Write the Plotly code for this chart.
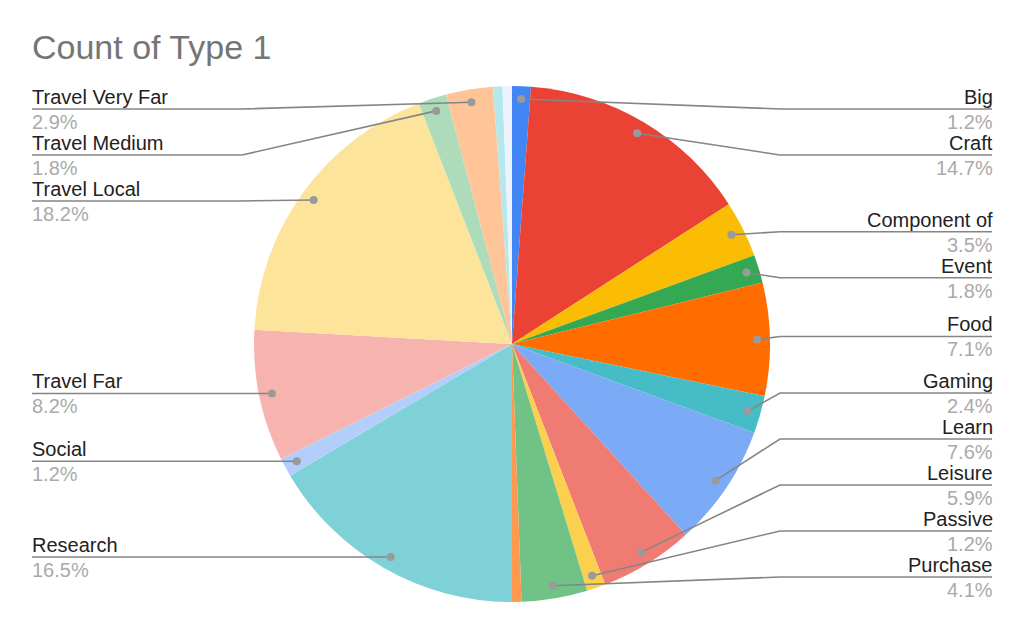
import math
import plotly.graph_objects as go

# ---- data ----
labels = ["Big", "Craft", "Component of", "Event", "Food", "Gaming", "Learn",
          "Leisure", "Passive", "Purchase", "Other 1", "Research", "Social",
          "Travel Far", "Travel Local", "Travel Medium", "Travel Very Far",
          "Other 2", "Other 3"]
values = [2, 25, 6, 3, 12, 4, 13, 10, 2, 7, 1, 28, 2, 14, 31, 3, 5, 1, 1]
colors = ["#4285F4", "#EA4335", "#FBBC04", "#34A853", "#FF6D01", "#46BDC6",
          "#7BAAF7", "#F07B72", "#FCD04F", "#71C287", "#FF994D", "#7ED1D7",
          "#B3CEFB", "#F7B4AE", "#FDE49B", "#AEDCBA", "#FFC599", "#B5E8EB",
          "#ECF3FE"]
title = "Count of Type 1"

# ---- geometry (page pixels) ----
OFF = 8                      # default body margin of the html page
FW, FH = 1024 - 2 * OFF, 633 - 2 * OFF
CX, CY, R = 512, 344, 258
DOT_R = 0.95 * R
LEFT_X, RIGHT_X = 32, 992
LEFT_ELBOW, RIGHT_ELBOW = 242, 780
TOP_LINE, BOTTOM_LINE, GAP = 109, 577, 46
FONT = "Liberation Sans, Arial, sans-serif"


def px(x):
    return (x - OFF) / FW


def py(y):
    return 1 - (y - OFF) / FH


fig = go.Figure()
fig.add_trace(go.Pie(
    labels=labels, values=values, sort=False, direction="clockwise",
    marker=dict(colors=colors, line=dict(width=0)),
    textinfo="none", showlegend=False,
    domain=dict(x=[px(CX - R), px(CX + R)], y=[py(CY + R), py(CY - R)]),
))

total = sum(values)
items = []
cum = 0
for lab, v in zip(labels, values):
    mid = (cum + v / 2) / total * 2 * math.pi
    cum += v
    pct = v / total * 100
    if pct < 1:
        continue
    dx = CX + DOT_R * math.sin(mid)
    dy = CY - DOT_R * math.cos(mid)
    side = "right" if mid < math.pi else "left"
    items.append(dict(label=lab, pct=pct, dx=dx, dy=dy, side=side))


def layout_side(its, shift):
    its = sorted(its, key=lambda d: d["dy"])
    ys = [min(max(d["dy"] + shift, TOP_LINE), BOTTOM_LINE) for d in its]
    for i in range(1, len(ys)):
        ys[i] = max(ys[i], ys[i - 1] + GAP)
    ys[-1] = min(ys[-1], BOTTOM_LINE)
    for i in range(len(ys) - 2, -1, -1):
        ys[i] = min(ys[i], ys[i + 1] - GAP)
    for d, y in zip(its, ys):
        d["ly"] = y


layout_side([d for d in items if d["side"] == "right"], -3)
layout_side([d for d in items if d["side"] == "left"], 0)

shapes = []
annotations = [dict(text=title, x=px(30), y=py(47), xref="paper", yref="paper",
                    xanchor="left", yanchor="middle", showarrow=False,
                    font=dict(family=FONT, size=34, color="#757575"))]
LINE_COLOR = "#858585"
for d in items:
    if d["side"] == "right":
        ex, tx, anchor, tpx = RIGHT_ELBOW, RIGHT_X, "right", RIGHT_X + 3
    else:
        ex, tx, anchor, tpx = LEFT_ELBOW, LEFT_X, "left", LEFT_X - 2
    path = "M {} {} L {} {} L {} {}".format(
        px(d["dx"]), py(d["dy"]), px(ex), py(d["ly"]), px(tx), py(d["ly"]))
    shapes.append(dict(type="path", path=path, xref="paper", yref="paper",
                       line=dict(color=LINE_COLOR, width=1.6), layer="above"))
    rr = 4
    shapes.append(dict(type="circle", xref="paper", yref="paper",
                       x0=px(d["dx"] - rr), x1=px(d["dx"] + rr),
                       y0=py(d["dy"] - rr), y1=py(d["dy"] + rr),
                       fillcolor="#9a9a9a", line=dict(width=0), layer="above"))
    annotations.append(dict(text=d["label"], x=px(tpx), y=py(d["ly"] - 12),
                            xref="paper", yref="paper", xanchor=anchor,
                            yanchor="middle", showarrow=False,
                            font=dict(family=FONT, size=20, color="#222222")))
    annotations.append(dict(text="{:.1f}%".format(d["pct"]), x=px(tpx),
                            y=py(d["ly"] + 13), xref="paper", yref="paper",
                            xanchor=anchor, yanchor="middle", showarrow=False,
                            font=dict(family=FONT, size=20, color="#aaaaaa")))

fig.update_layout(width=FW, height=FH, margin=dict(l=0, r=0, t=0, b=0),
                  paper_bgcolor="white", plot_bgcolor="white",
                  shapes=shapes, annotations=annotations)
fig.write_html("out.html")
